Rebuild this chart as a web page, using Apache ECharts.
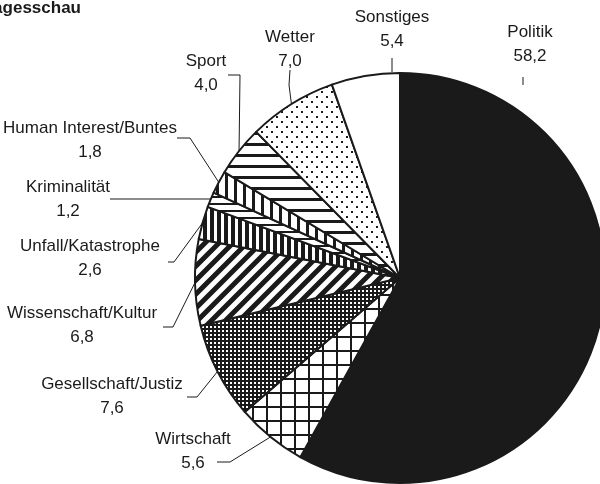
<!DOCTYPE html>
<html>
<head>
<meta charset="utf-8">
<script src="https://cdn.jsdelivr.net/npm/echarts@6/dist/echarts.min.js"></script>
<style>
html,body{margin:0;padding:0;background:#fff}
#chart{width:600px;height:484px}
</style>
</head>
<body>
<div id="chart"></div>
<script>
// Anteile der Themen (Prozent), im Uhrzeigersinn ab 12 Uhr
var categories = ['Politik','Wirtschaft','Gesellschaft/Justiz','Wissenschaft/Kultur','Unfall/Katastrophe','Kriminalität','Human Interest/Buntes','Sport','Wetter','Sonstiges']
var values = [58.2, 5.6, 7.6, 6.8, 2.6, 1.2, 1.8, 4.0, 7.0, 5.4]
var valueLabels = ['58,2','5,6','7,6','6,8','2,6','1,2','1,8','4,0','7,0','5,4']

var ink = '#1a1a1a'
var FONT = '"Liberation Sans", Arial, sans-serif'

function pat(w, h, draw){
	var c = document.createElement('canvas')
	c.width = w; c.height = h
	var g = c.getContext('2d')
	g.fillStyle = '#fff'; g.fillRect(0,0,w,h)
	g.fillStyle = ink; g.strokeStyle = ink
	draw(g, w, h)
	return {image: c, repeat: 'repeat'}
}

var fills = [
	ink,
	pat(14,14,function(g){ g.fillRect(0,0,14,2); g.fillRect(0,0,2,14) }),
	pat(4,4,function(g){ g.fillStyle=ink; g.fillRect(0,0,4,4); g.fillStyle='#fff'; g.fillRect(2,2,2,2) }),
	pat(14,14,function(g,w,h){ g.lineWidth=5; g.beginPath(); g.moveTo(-2,h+2); g.lineTo(w+2,-2); g.moveTo(-2,2); g.lineTo(2,-2); g.moveTo(w-2,h+2); g.lineTo(w+2,h-2); g.stroke() }),
	pat(7,7,function(g){ g.fillRect(0,0,4,7) }),
	pat(7,7,function(g){ g.fillRect(0,0,7,2) }),
	pat(9,9,function(g){ g.fillRect(0,0,3,9) }),
	pat(11,11,function(g){ g.fillRect(0,0,11,3) }),
	pat(10,10,function(g){ g.fillRect(1,1,2,2); g.fillRect(6,6,2,2) }),
	'#fff'
]

// Position der Beschriftungen (Mitte des Textblocks) und Verlauf der Linien
var labelPos = [[530,44],[193,451],[112,396],[82,325],[90,258],[68,199],[90,140],[206,73],[290,49],[392,29]]
var lineStart = [[523,77],null,null,null,null,[240,199],null,null,null,[392,72]]
var lineBend = [[523,81],[230,462],[197,397],[173,327],[174,262],[175,199],[190,138],[240,75],[289,85],[392,66]]
var lineEnd = [[523,85],[217,462],[187,397],[163,327],[168,262],[110,199],[177,138],[228,75],[290,70],[392,58]]

var chart = echarts.init(document.getElementById('chart'))

var pieData = categories.map(function(n,i){
	return {name: n, value: values[i], itemStyle: {color: fills[i]}}
})

chart.setOption({
	animation: false,
	graphic: [{
		type: 'text', left: -16, top: 0,
		style: {text: 'Tagesschau', font: 'bold 17px ' + FONT, fill: ink}
	}],
	series: [{
		type: 'pie',
		center: [400, 278],
		radius: 205,
		startAngle: 90,
		clockwise: true,
		silent: true,
		itemStyle: {borderColor: ink, borderWidth: 2},
		label: {
			show: true,
			position: 'outside',
			formatter: function(p){ return p.name + '\n' + valueLabels[p.dataIndex] },
			fontFamily: FONT,
			fontSize: 17,
			lineHeight: 24,
			color: ink,
			align: 'center',
			overflow: 'none',
			width: 260
		},
		labelLine: {show: true, lineStyle: {color: ink, width: 1}},
		labelLayout: function(params){
			var i = params.dataIndex
			var p = labelPos[i]
			var pts = params.labelLinePoints
			var a = lineStart[i] || (pts ? pts[0] : lineBend[i])
			return {
				x: p[0], y: p[1], align: 'center', verticalAlign: 'middle',
				labelLinePoints: [a, lineBend[i], lineEnd[i]]
			}
		},
		data: pieData
	}]
})
</script>
</body>
</html>
